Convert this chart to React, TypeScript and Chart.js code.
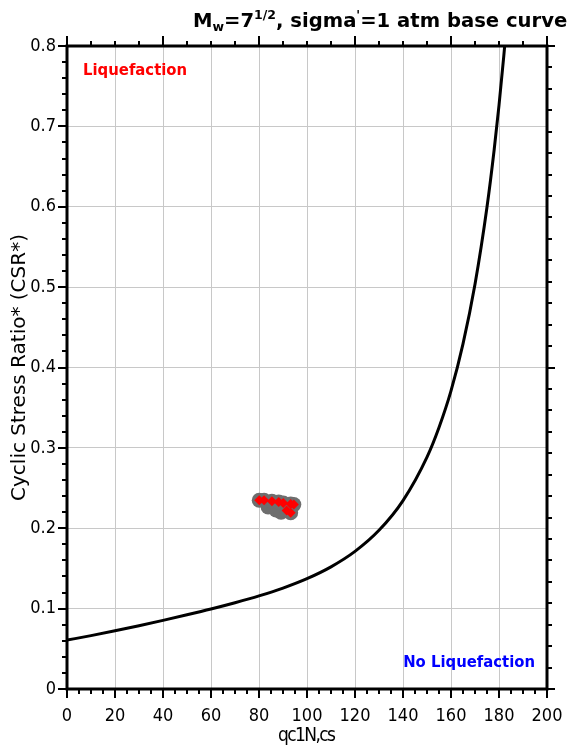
import React, { useEffect, useRef } from "react";
import { Chart, registerables } from "chart.js";

Chart.register(...registerables);

// Base curve (qc1N,cs vs CSR*)
const curveQ = [0, 10, 20, 30, 40, 50, 60, 70, 80, 90, 100, 110, 120, 130, 140, 150, 155, 160, 165, 170, 175, 178, 180, 182, 183];
const curveCSR = [0.0608, 0.0664, 0.0724, 0.0788, 0.0854, 0.0923, 0.0995, 0.1073, 0.1158, 0.1256, 0.1373, 0.152, 0.1712, 0.1974, 0.2344, 0.2885, 0.3254, 0.3709, 0.4293, 0.5035, 0.5996, 0.6712, 0.7261, 0.7877, 0.8214];

// Data points with visible red marker
const markedQ = [80.1, 82.1, 85.4, 88.2, 90.1, 93.2, 94.5, 91.5, 93.2];
const markedCSR = [0.2348, 0.2348, 0.2335, 0.2327, 0.2315, 0.2302, 0.2294, 0.2221, 0.2193];
// Data points whose red marker is hidden under others
const hiddenQ = [83.8, 87.1, 89.2];
const hiddenCSR = [0.2264, 0.2227, 0.22];

const xTicks = [0, 20, 40, 60, 80, 100, 120, 140, 160, 180, 200];
const xTickLabels = ["0", "20", "40", "60", "80", "100", "120", "140", "160", "180", "200"];
const yTicks = [0, 0.1, 0.2, 0.3, 0.4, 0.5, 0.6, 0.7, 0.8];
const yTickLabels = ["0", "0.1", "0.2", "0.3", "0.4", "0.5", "0.6", "0.7", "0.8"];

const xTitle = "qc1N,cs";
const yTitle = "Cyclic Stress Ratio* (CSR*)";
const liqLabel = "Liquefaction";
const noLiqLabel = "No Liquefaction";

const NARROW = "'Liberation Sans Narrow', 'DejaVu Sans Condensed', sans-serif";
const COND = "'DejaVu Sans Condensed', 'DejaVu Sans', sans-serif";

const decor = {
  id: "decor",
  afterDraw(chart: any) {
    const { ctx, chartArea: a, scales } = chart;
    const x = scales.x;
    const y = scales.y;
    ctx.save();
    ctx.strokeStyle = "#000";
    ctx.lineWidth = 2;
    const line = (x1: number, y1: number, x2: number, y2: number) => {
      ctx.beginPath();
      ctx.moveTo(x1, y1);
      ctx.lineTo(x2, y2);
      ctx.stroke();
    };
    // bottom ticks
    for (let i = 0; i <= 40; i++) {
      const px = Math.round(x.getPixelForValue(i * 5));
      line(px, a.bottom, px, a.bottom + (i % 4 === 0 ? 9 : 5));
    }
    // top ticks
    for (let i = 0; i <= 20; i++) {
      const px = Math.round(x.getPixelForValue(i * 10));
      line(px, a.top, px, a.top - (i % 4 === 0 ? 10 : 5));
    }
    // left ticks
    for (let i = 0; i <= 40; i++) {
      const py = Math.round(y.getPixelForValue(i * 0.02));
      line(a.left, py, a.left - (i % 5 === 0 ? 9 : 5), py);
    }
    // right ticks
    for (let i = 0; i <= 30; i++) {
      const py = Math.round(y.getPixelForValue((i * 0.8) / 30));
      line(a.right, py, a.right + (i % 15 === 0 ? 8 : 5), py);
    }
    // frame
    ctx.lineWidth = 3;
    ctx.strokeRect(a.left, a.top, a.right - a.left, a.bottom - a.top);

    // region labels
    ctx.font = `bold 16.5px ${COND}`;
    ctx.textBaseline = "alphabetic";
    ctx.fillStyle = "#ff0000";
    ctx.textAlign = "left";
    ctx.fillText(liqLabel, x.getPixelForValue(6.7), y.getPixelForValue(0.764));
    ctx.fillStyle = "#0000ff";
    ctx.textAlign = "right";
    ctx.fillText(noLiqLabel, x.getPixelForValue(195), y.getPixelForValue(0.027));

    // x axis title (tight spacing)
    ctx.fillStyle = "#000";
    ctx.textBaseline = "middle";
    ctx.textAlign = "left";
    ctx.font = `19px ${NARROW}`;
    const gap = -1.6;
    let total = 0;
    for (const ch of xTitle) total += ctx.measureText(ch).width + gap;
    total -= gap;
    let cx = (a.left + a.right) / 2 - total / 2;
    for (const ch of xTitle) {
      ctx.fillText(ch, cx, 736);
      cx += ctx.measureText(ch).width + gap;
    }

    // y axis title
    ctx.textAlign = "center";
    ctx.save();
    ctx.translate(20, (a.top + a.bottom) / 2);
    ctx.rotate(-Math.PI / 2);
    ctx.font = `20px 'DejaVu Sans', sans-serif`;
    ctx.fillText(yTitle, 0, 0);
    ctx.restore();

    // title with sub/superscripts
    const parts: [string, number, number][] = [
      ["M", 19.6, 0],
      ["w", 12.5, 4],
      ["=7", 19.6, 0],
      ["1/2", 12.5, -8],
      [", sigma", 19.6, 0],
      ["'", 12.5, -8],
      ["=1 atm base curve", 19.6, 0],
    ];
    ctx.textAlign = "left";
    ctx.textBaseline = "alphabetic";
    let tx = 193;
    const base = 27;
    for (const [t, s, dy] of parts) {
      ctx.font = `bold ${s}px 'DejaVu Sans', sans-serif`;
      ctx.fillText(t, tx, base + dy);
      tx += ctx.measureText(t).width;
    }
    ctx.restore();
  },
};

export default function App() {
  const ref = useRef<HTMLCanvasElement>(null);
  useEffect(() => {
    if (!ref.current) return;
    const allQ = [...hiddenQ, ...markedQ];
    const allCSR = [...hiddenCSR, ...markedCSR];
    const chart = new Chart(ref.current, {
      type: "scatter",
      data: {
        datasets: [
          {
            label: "marker",
            data: markedQ.map((q, i) => ({ x: q, y: markedCSR[i] })),
            pointStyle: "rectRot",
            pointRadius: 5,
            backgroundColor: "#ff0000",
            borderColor: "#ff0000",
            borderWidth: 0,
          },
          {
            label: "points",
            data: allQ.map((q, i) => ({ x: q, y: allCSR[i] })),
            pointStyle: "circle",
            pointRadius: 7.5,
            backgroundColor: "#6e6e6e",
            borderColor: "#6e6e6e",
            borderWidth: 0,
          },
          {
            label: "curve",
            data: curveQ.map((q, i) => ({ x: q, y: curveCSR[i] })),
            showLine: true,
            borderColor: "#000",
            borderWidth: 3,
            pointRadius: 0,
            cubicInterpolationMode: "monotone",
          } as any,
        ],
      },
      options: {
        animation: false,
        responsive: false,
        devicePixelRatio: 1,
        layout: { padding: { top: 46, right: 20, left: 0, bottom: 0 } },
        plugins: { legend: { display: false }, tooltip: { enabled: false }, title: { display: false } },
        scales: {
          x: {
            type: "linear",
            min: 0,
            max: 200,
            afterBuildTicks: (s: any) => {
              s.ticks = xTicks.map((v) => ({ value: v }));
            },
            afterFit: (s: any) => {
              s.height = 58;
              s.paddingLeft = 0;
              s.paddingRight = 0;
            },
            ticks: {
              color: "#000",
              padding: 17,
              maxRotation: 0,
              autoSkip: false,
              font: { family: NARROW, size: 18 },
              callback: (_v: any, i: number) => xTickLabels[i],
            },
            grid: { color: "#c8c8c8", lineWidth: 1, drawTicks: false },
            border: { display: false },
          },
          y: {
            type: "linear",
            min: 0,
            max: 0.8,
            afterBuildTicks: (s: any) => {
              s.ticks = yTicks.map((v) => ({ value: v }));
            },
            afterFit: (s: any) => {
              s.width = 67;
              s.paddingTop = 0;
              s.paddingBottom = 0;
            },
            ticks: {
              color: "#000",
              padding: 11,
              autoSkip: false,
              font: { family: NARROW, size: 18 },
              callback: (_v: any, i: number) => yTickLabels[i],
            },
            grid: { color: "#c8c8c8", lineWidth: 1, drawTicks: false },
            border: { display: false },
          },
        },
      },
      plugins: [decor],
    });
    return () => chart.destroy();
  }, []);
  return (
    <div style={{ position: "absolute", left: 0, top: 0, width: 567, height: 747, background: "#fff" }}>
      <canvas ref={ref} width={567} height={747} />
    </div>
  );
}
